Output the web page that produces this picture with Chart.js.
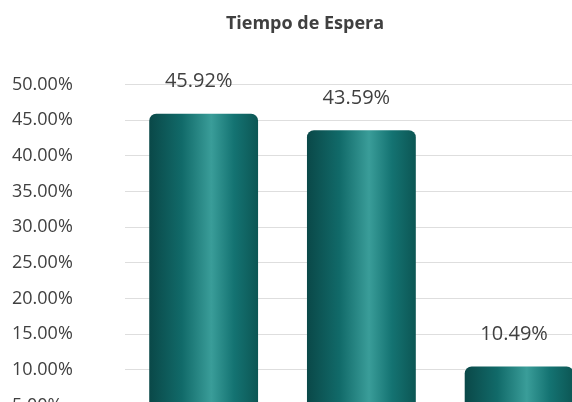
<!DOCTYPE html>
<html>
<head>
<meta charset="utf-8">
<script src="https://cdn.jsdelivr.net/npm/chart.js@4"></script>
<style>
  html, body { margin: 0; padding: 0; background: #fff; overflow: hidden; }
  canvas { display: block; }
</style>
</head>
<body>
<canvas id="barras" width="692" height="478"></canvas>
<script>
const categorias = ['A', 'B', 'C'];
const valores = [45.92, 43.59, 10.49];
const tituloTexto = 'Tiempo de Espera';
const anchoBarra = 0.69;

// gradiente tipo cilindro, calculado con la escala x
function cilindro(c) {
    const chart = c.chart;
    const xs = chart.scales.x;
    if (!chart.chartArea || !xs) return '#137070';
    const cx = xs.getPixelForValue(c.dataIndex);
    const w = xs.width / categorias.length * anchoBarra;
    const x0 = cx - w / 2;
    const g = chart.ctx.createLinearGradient(x0, 0, x0 + w, 0);
    g.addColorStop(0, '#0a4848');
    g.addColorStop(0.3, '#116a69');
    g.addColorStop(0.57, '#3a9d99');
    g.addColorStop(0.78, '#147372');
    g.addColorStop(1, '#0c5654');
    return g;
}

// etiquetas de valor arriba de las barras
const etiquetas = {
    id: 'etiquetas',
    afterDatasetsDraw(chart) {
        const c = chart.ctx;
        c.save();
        c.font = '20px "Open Sans"';
        c.fillStyle = '#404040';
        c.textAlign = 'center';
        c.textBaseline = 'middle';
        chart.getDatasetMeta(0).data.forEach((bar, i) => {
            c.fillText(valores[i].toFixed(2) + '%', bar.x - 5, bar.y - 32);
        });
        c.restore();
    }
};

const ctx = document.getElementById('barras');

new Chart(ctx, {
    type: 'bar',
    data: {
        labels: categorias,
        datasets: [{
            label: tituloTexto,
            data: valores,
            backgroundColor: cilindro,
            borderWidth: 0,
            borderRadius: { topLeft: 7, topRight: 7 },
            borderSkipped: 'bottom',
            barPercentage: anchoBarra,
            categoryPercentage: 1
        }]
    },
    plugins: [etiquetas],
    options: {
        responsive: false,
        animation: false,
        layout: { padding: { left: 12, right: 94, bottom: 10 } },
        plugins: {
            legend: { display: false },
            tooltip: { enabled: false },
            title: {
                display: true,
                text: tituloTexto,
                color: '#404040',
                font: { family: 'Open Sans', size: 18, weight: 'bold' },
                padding: { top: 13, bottom: 50 }
            }
        },
        scales: {
            x: {
                display: false
            },
            y: {
                min: 0,
                max: 50,
                ticks: {
                    stepSize: 5,
                    padding: 26,
                    crossAlign: 'far',
                    color: '#404040',
                    font: { family: 'Open Sans', size: 18 },
                    callback: v => v.toFixed(2) + '%'
                },
                grid: { color: '#dedede', drawTicks: false },
                border: { display: false }
            }
        }
    }
});
</script>
</body>
</html>
